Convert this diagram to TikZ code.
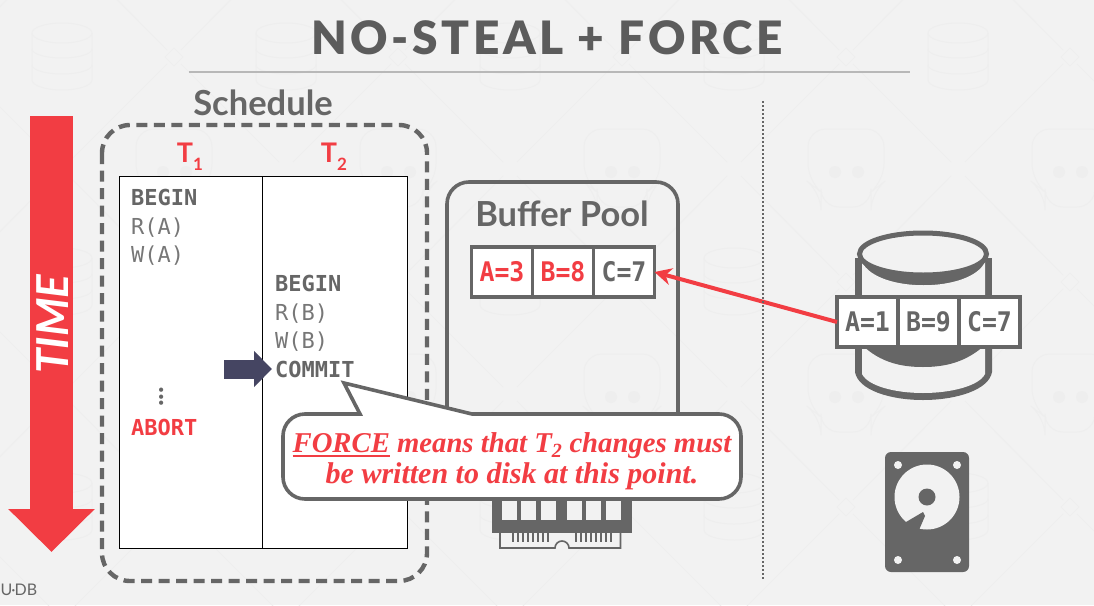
\documentclass[tikz,border=0pt]{standalone}
\usepackage{fontspec}
\usepackage{xcolor}
\usepackage{tikz}
\usetikzlibrary{arrows.meta, positioning}
\setmainfont{Lato}
\setmonofont{DejaVu Sans Mono}
\newfontfamily\titlefont[LetterSpace=7.8]{Lato Black}
\newfontfamily\calloutfont{Liberation Serif}
\newfontfamily\cellfont[FakeStretch=0.92]{DejaVu Sans Mono}
\definecolor{pagebg}{HTML}{F2F2F2}
\definecolor{inkgray}{HTML}{666666}
\definecolor{opgray}{HTML}{777777}
\definecolor{alertred}{HTML}{F23D43}
\definecolor{navy}{HTML}{454562}
\definecolor{ghost}{HTML}{EEEEEE}
\tikzset{
    heading/.style={font=\bfseries\fontsize{34.5}{36}\selectfont, text=inkgray, inner sep=0pt},
    txnlabel/.style={font=\bfseries\fontsize{27}{29}\selectfont, text=alertred, inner sep=0pt},
    opcode/.style={anchor=base west, font=\ttfamily\bfseries\fontsize{22}{24}\selectfont, text=inkgray, inner sep=0pt},
    opread/.style={anchor=base west, font=\ttfamily\fontsize{22}{24}\selectfont, text=opgray, inner sep=0pt},
    cell/.style={rectangle, draw=inkgray, line width=3.6pt, fill=white, minimum width=61pt, minimum height=50pt, inner sep=0pt, outer sep=0pt, font=\cellfont\bfseries\fontsize{27}{29}\selectfont, text=inkgray},
    dirtycell/.style={cell, text=alertred},
    darrow/.style={-{Stealth[length=17pt, width=17pt]}, line width=4pt, alertred},
    ghostline/.style={draw=ghost, line width=1pt},
}
\newcommand{\txnsub}[1]{\raisebox{-.3em}{\fontsize{17}{17}\selectfont #1}}
\newcommand{\ulword}[1]{\setbox0\hbox{#1}\rlap{\rule[-4.5pt]{\wd0}{1.6pt}}\box0\relax}
\begin{document}
\begin{tikzpicture}[x=1pt, y=-1pt]
    \useasboundingbox (0,0) rectangle (1094,605);
    \fill[pagebg] (0,0) rectangle (1094,605);

    % Faint watermark
    \begin{scope}[ghostline]
    \foreach \col in {-1,0,...,4} {
        \foreach \row in {-1,0,1,2} {
            \pgfmathsetmacro{\dx}{174+224*\col}
            \pgfmathsetmacro{\dy}{57+225*\row}
            \draw (\dx-9,\dy) -- (\dx,\dy-9) -- (\dx+9,\dy) -- (\dx,\dy+9) -- cycle;
            \draw (\dx+7,\dy+7) -- (\dx+105,\dy+105) (\dx+119,\dy+119) -- (\dx+217,\dy+218);
            \draw (\dx-7,\dy+7) -- (\dx-105,\dy+105) (\dx-119,\dy+119) -- (\dx-217,\dy+218);
        }
    }
    \foreach \col in {0,...,4} {
        \foreach \row in {0,1,2} {
            \pgfmathsetmacro{\bx}{62+224*\col}
            \pgfmathsetmacro{\by}{57+225*\row}
            \draw (\bx,\by-24) ellipse (30 and 10);
            \draw (\bx-30,\by-24) -- (\bx-30,\by+23) arc (180:0:30 and 10) -- (\bx+30,\by-24);
            \draw (\bx-30,\by-8) arc (180:0:30 and 9);
            \draw (\bx-30,\by+8) arc (180:0:30 and 9);
        }
    }
    \foreach \col in {0,...,4} {
        \foreach \row in {0,1} {
            \pgfmathsetmacro{\sx}{174+224*\col}
            \pgfmathsetmacro{\sy}{168+225*\row}
            \draw[rounded corners=18pt] (\sx-25,\sy+39) -- (\sx-25,\sy+24) -- (\sx-38,\sy+14) -- (\sx-38,\sy-39) -- (\sx+38,\sy-39) -- (\sx+38,\sy+14) -- (\sx+25,\sy+24) -- (\sx+25,\sy+39) -- cycle;
            \fill[ghost] (\sx-11,\sy+4) circle (6) (\sx+12,\sy+4) circle (6);
        }
    }
    \end{scope}

    % Title
    \node[inner sep=0pt, font=\titlefont\fontsize{46}{48}\selectfont, text=inkgray!90!black] (title) at (547,38) {NO-STEAL + FORCE};
    \coordinate (ruleL) at (189,72);
    \coordinate (ruleR) at (910,72);
    \draw[line width=2.6pt, draw=black!28] (ruleL) -- (ruleR);

    % Time arrow
    \coordinate (timeTop) at (51.5,116);
    \coordinate (timeTip) at (51.5,552);
    \draw[line width=43pt, alertred, -{Triangle[length=43pt, width=84pt]}] (timeTop) -- (timeTip);
    \node[rotate=90, inner sep=0pt, font=\bfseries\itshape\fontsize{44}{46}\selectfont, text=white] (timeText) at (53,324) {TIME};

    % Schedule
    \node[heading] (schedule) at (263,103) {Schedule};
    \draw[inkgray, line width=4.4pt, dash pattern=on 11pt off 6.5pt, rounded corners=28pt] (102,125) rectangle (427,581);
    \node[txnlabel] (tOne) at (190,157) {T\txnsub{1}};
    \node[txnlabel] (tTwo) at (334,157) {T\txnsub{2}};
    \draw[black, line width=.9pt, fill=white] (119,176) rectangle (407,548);
    \draw[black, line width=.9pt] (262,176) -- (262,548);

    % T1 operations
    \node[opcode] (beginOne) at (131,205) {BEGIN};
    \node[opread] (readA) at (131,234) {R(A)};
    \node[opread] (writeA) at (131,262) {W(A)};
    \node[inner sep=0pt, font=\bfseries\fontsize{28}{30}\selectfont, text=inkgray] (dots) at (162,397) {\rotatebox{90}{...}};
    \node[opcode, text=alertred] (abort) at (131,435) {ABORT};

    % T2 operations
    \node[opcode] (beginTwo) at (275,291) {BEGIN};
    \node[opread] (readB) at (275,320) {R(B)};
    \node[opread] (writeB) at (275,348) {W(B)};
    \node[opcode] (commit) at (275,377) {COMMIT};
    \coordinate (cursor) at (224,369);
    \coordinate (cursorTip) at (272,369);
    \draw[navy, line width=19pt, -{Triangle[length=18pt, width=35pt]}] (cursor) -- (cursorTip);

    % Buffer pool
    \draw[inkgray, line width=3.6pt, rounded corners=22pt] (447,470) -- (447,182) -- (678,182) -- (678,470);
    \node[heading] (bufferTitle) at (562,214) {Buffer Pool};
    \node[dirtycell] (bufA) at (502,272) {A=3};
    \node[dirtycell, right=0pt of bufA] (bufB) {B=8};
    \node[cell, right=0pt of bufB] (bufC) {C=7};

    % Memory stick
    \fill[inkgray] (492,490) rectangle (632,533);
    \foreach \wx in {502,521,541,567,586,606} {
        \fill[pagebg] (\wx,500) rectangle (\wx+15,520);
    }
    \draw[inkgray, line width=1.6pt, fill=pagebg] (500,533) -- (500,548) -- (555,548) arc (180:360:7 and 7) -- (620.5,548) -- (620.5,533);
    \foreach \px in {512,517,522,527,532,537,542,547,575,580,585,590,595,600,605,610} {
        \fill[inkgray] (\px,533) rectangle (\px+2,542);
    }

    % Callout
    \node[inner sep=0pt, minimum width=458pt, minimum height=85pt] (callout) at (512,456.5) {};
    \draw[inkgray, line width=3.6pt, fill=white] (344,383) -- (472,414) [rounded corners=22pt] -- (741,414) -- (741,499) -- (283,499) -- (283,414) [sharp corners] -- (360,414) -- cycle;
    \node[align=center, inner sep=0pt, text=alertred, font=\calloutfont\bfseries\itshape\fontsize{30}{31}\selectfont, yshift=-4.5pt] (calloutText) at (callout.center) {{\fontsize{28.7}{31}\selectfont\ulword{FORCE} means that T\textsubscript{2} changes must}\\be written to disk at this point.};

    % Database
    \fill[inkgray] (855,258) -- (855,310) -- (992,310) -- (992,258) -- cycle;
    \fill[pagebg] (862,262) -- (862,320) -- (985,320) -- (985,262) .. controls (970,293) and (877,293) .. cycle;
    \fill[inkgray] (855,340) -- (855,372) .. controls (858,390) and (890,400) .. (923,400) .. controls (956,400) and (989,390) .. (992,372) -- (992,340) -- cycle;
    \fill[pagebg] (862,374) .. controls (868,386) and (895,393) .. (923,393) .. controls (951,393) and (979,386) .. (985,374) -- (985,340) -- (862,340) -- cycle;
    \fill[inkgray] (862,345) .. controls (880,362) and (900,367) .. (923,367) .. controls (946,367) and (966,362) .. (985,345) -- cycle;
    \draw[inkgray, line width=5pt, fill=pagebg] (923,254) ellipse (63.5 and 21);
    \node[cell] (diskA) at (867.5,322) {A=1};
    \node[cell, right=0pt of diskA] (diskB) {B=9};
    \node[cell, right=0pt of diskB] (diskC) {C=7};
    \draw[darrow] (diskA.west) -- (bufC.east);

    % Hard drive
    \fill[inkgray, rounded corners=6pt] (885,452) rectangle (969,572);
    \fill[pagebg] (927,497) circle (32.5);
    \fill[inkgray] (927,497) circle (8.5);
    \fill[inkgray] (906,522) -- (923,512) -- (925,516) -- (919,530) -- (919,545) -- (895,545) -- cycle;
    \foreach \hx/\hy in {898/465, 957/465, 898/560, 957/560} {
        \fill[pagebg] (\hx,\hy) circle (4);
    }

    % Divider
    \coordinate (splitTop) at (763,101);
    \coordinate (splitBottom) at (763,580);
    \draw[inkgray, line width=1.6pt, dash pattern=on 1.6pt off 2.4pt] (splitTop) -- (splitBottom);

    % Footer
    \node[anchor=west, inner sep=0pt, font=\fontsize{16}{18}\selectfont, text=inkgray] (footer) at (0.5,590) {U\kern-1pt·\kern-1ptDB};
\end{tikzpicture}
\end{document}
